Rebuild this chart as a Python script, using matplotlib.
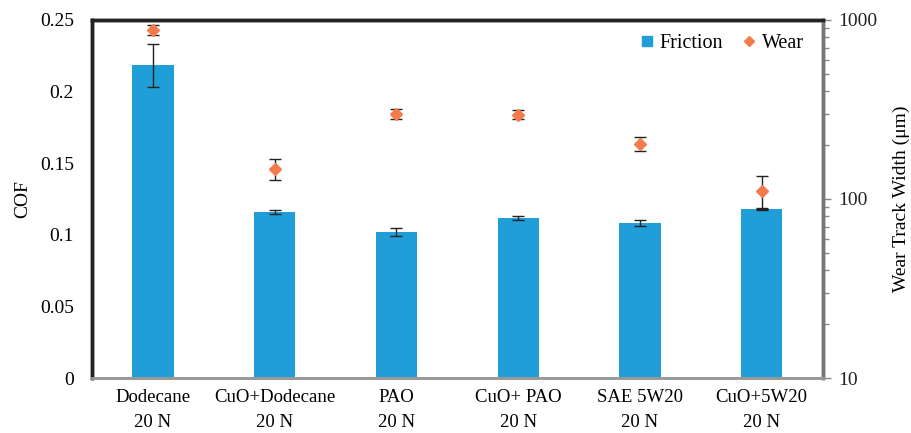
import numpy as np
import matplotlib
matplotlib.use("Agg")
import matplotlib.pyplot as plt
from matplotlib.lines import Line2D

plt.rcParams['font.family'] = ['Liberation Serif', 'DejaVu Serif']

categories = ['Dodecane\n20 N', 'CuO+Dodecane\n20 N', 'PAO\n20 N',
              'CuO+ PAO\n20 N', 'SAE 5W20\n20 N', 'CuO+5W20\n20 N']
cof = [0.2185, 0.116, 0.102, 0.1115, 0.108, 0.118]
cof_err = [0.015, 0.0015, 0.003, 0.0015, 0.002, 0.0007]
wear = [880, 147, 298, 296, 203, 111]
wear_lo = [60, 19, 17, 17, 18, 23]
wear_hi = [60, 20, 18, 18, 18, 24]

bar_color = '#1f9ed8'
wear_color = '#f47c4c'

fig = plt.figure(figsize=(9.12, 4.33), dpi=100)
ax = fig.add_axes([0.101, 0.127, 0.801, 0.827])
x = np.arange(len(categories))

ax.bar(x, cof, width=0.34, color=bar_color, zorder=2)
ax.errorbar(x, cof, yerr=cof_err, fmt='none', ecolor='#222222',
            elinewidth=1, capsize=4, capthick=1, zorder=3)
ax.set_xlim(-0.5, len(categories) - 0.5)
ax.set_ylim(0, 0.25)
ax.set_yticks([0, 0.05, 0.1, 0.15, 0.2, 0.25])
ax.set_yticklabels(['0', '0.05', '0.1', '0.15', '0.2', '0.25'])
ax.set_xticks(x)
ax.set_xticklabels(categories, linespacing=1.6)
ax.tick_params(axis='y', length=0, labelsize=14, pad=13)
ax.tick_params(axis='x', length=0, labelsize=13.5, pad=8)
ax.set_ylabel('COF', fontsize=14, labelpad=6)

ax2 = ax.twinx()
ax2.set_yscale('log')
ax2.set_ylim(10, 1000)
ax2.errorbar(x, wear, yerr=[wear_lo, wear_hi], fmt='D', color=wear_color,
             markersize=6, ecolor='#222222', elinewidth=1, capsize=4,
             capthick=1, zorder=4)
ax2.set_yticks([10, 100, 1000])
ax2.set_yticklabels(['10', '100', '1000'])
ax2.tick_params(axis='y', which='major', length=6, width=1, colors='#888888',
                labelcolor='#222222', labelsize=14, pad=5)
ax2.tick_params(axis='y', which='minor', length=4, width=1, colors='#888888')
ax2.set_ylabel('Wear Track Width (μm)', fontsize=14, labelpad=11)

for a in (ax, ax2):
    a.spines['left'].set_color('#222222')
    a.spines['left'].set_linewidth(2.5)
    a.spines['top'].set_color('#222222')
    a.spines['top'].set_linewidth(2.5)
    a.spines['right'].set_color('#777777')
    a.spines['right'].set_linewidth(2.5)
    a.spines['bottom'].set_color('#999999')
    a.spines['bottom'].set_linewidth(2)

handles = [Line2D([], [], marker='s', linestyle='none', color=bar_color, markersize=7),
           Line2D([], [], marker='D', linestyle='none', color=wear_color, markersize=5.5)]
ax2.legend(handles, ['Friction', 'Wear'], loc='upper right',
           bbox_to_anchor=(0.985, 0.984), frameon=False, ncol=2, fontsize=14.5,
           handlelength=0.7, handletextpad=0.3, columnspacing=0.9,
           borderaxespad=0)

fig.savefig('out.png', dpi=100)
